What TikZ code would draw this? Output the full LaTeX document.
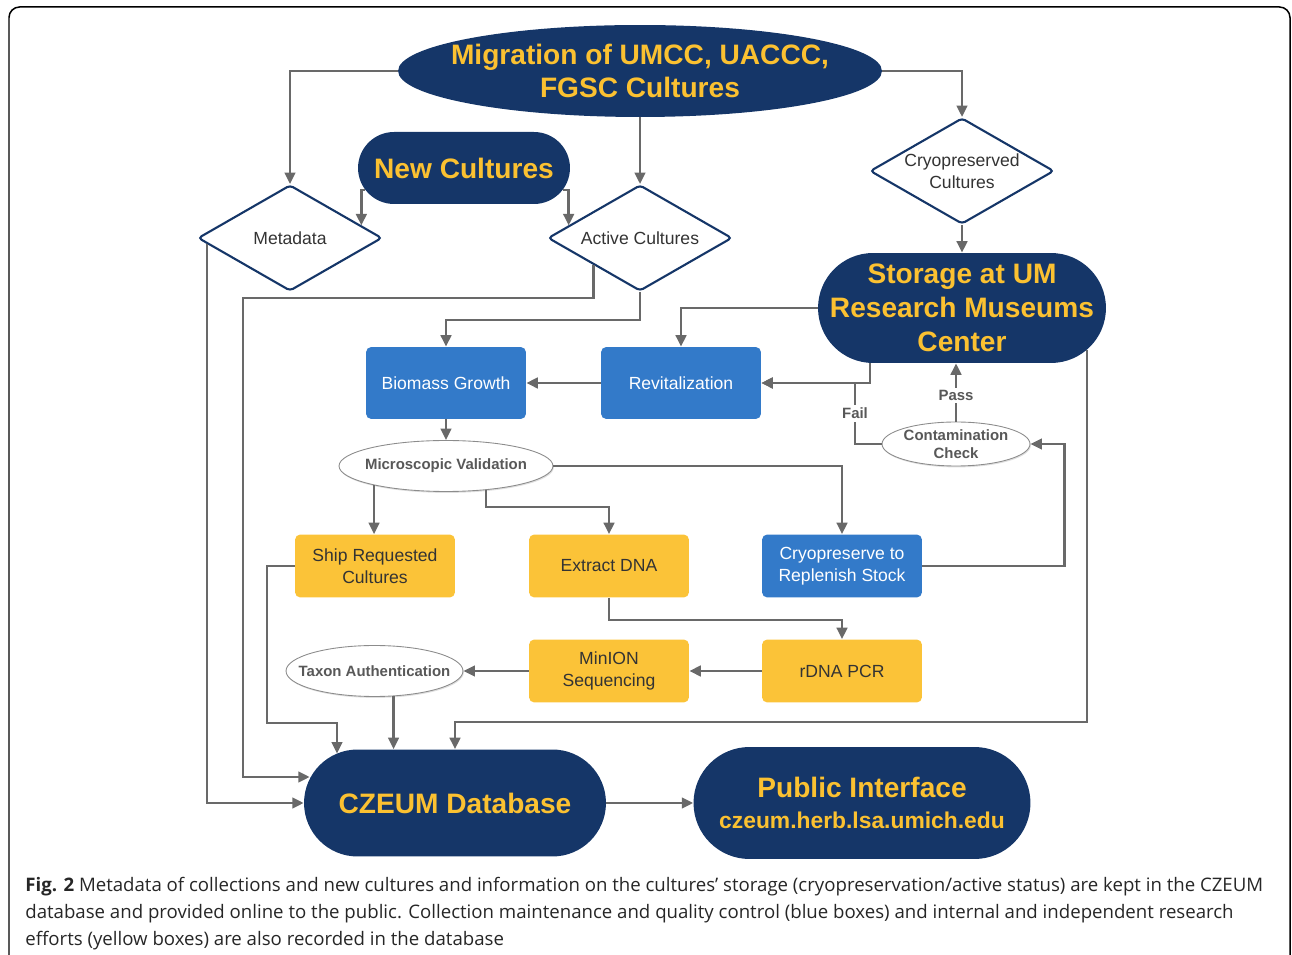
\documentclass[tikz,border=0pt]{standalone}
\usepackage{fontspec}
\setmainfont{Liberation Sans}
\newfontfamily\capfont{Open Sans}
\usepackage{xcolor}
\usepackage{tikz}
\usetikzlibrary{shapes.geometric,arrows.meta,shadows}

\definecolor{navy}{RGB}{21,54,104}
\definecolor{gold}{RGB}{251,193,49}
\definecolor{boxyel}{RGB}{251,195,56}
\definecolor{boxblue}{RGB}{51,122,201}
\definecolor{linegray}{RGB}{105,105,105}
\definecolor{txtgray}{RGB}{51,51,51}
\definecolor{ovalgray}{RGB}{88,88,88}

\begin{document}
\begin{tikzpicture}[x=0.02cm,y=-0.02cm,>={Triangle[length=6.5pt,width=6pt]},
  conn/.style={->,draw=linegray,line width=1.4pt},
  big/.style={fill=navy,text=gold,font=\fontsize{16}{19.3}\selectfont\bfseries,align=center,inner sep=0pt},
  decide/.style={diamond,aspect=1.74,draw=navy,line width=1.2pt,fill=white,rounded corners=2pt,minimum width=3.68cm,minimum height=2.12cm,inner sep=0pt,text=txtgray,font=\fontsize{10}{12.5}\selectfont,align=center},
  task/.style={rectangle,rounded corners=3pt,minimum width=3.2cm,minimum height=1.26cm,inner sep=0pt,align=center,font=\fontsize{10}{12.5}\selectfont},
  bluebox/.style={task,fill=boxblue,text=white},
  yelbox/.style={task,fill=boxyel,text=txtgray},
  oval/.style={ellipse,draw=black!45,line width=0.5pt,fill=white,inner xsep=-0.3cm,inner ysep=0pt,text=ovalgray,font=\fontsize{8.5}{10.2}\selectfont\bfseries,align=center,drop shadow={shadow xshift=0.5pt,shadow yshift=-0.8pt,opacity=0.25}},
  lbl/.style={fill=white,text=ovalgray,font=\fontsize{8.5}{10}\selectfont\bfseries,inner sep=1.5pt}]
\useasboundingbox (0,0) rectangle (1292,955);
\draw[line width=0.85pt,rounded corners=6pt] (9,975) -- (9,7) -- (1290,7) -- (1290,975);

% sources
\node[big,ellipse,inner xsep=-0.5cm,minimum width=9.68cm,minimum height=1.84cm] (mig) at (640,71) {Migration of UMCC, UACCC,\\FGSC Cultures};
\node[big,rectangle,rounded corners=0.72cm,minimum width=4.24cm,minimum height=1.44cm] (newc) at (464,168) {New Cultures};
\node[decide] (meta) at (290,238) {Metadata};
\node[decide] (act) at (640,238) {Active Cultures};
\node[decide] (cryo) at (962,171) {Cryopreserved\\Cultures};
\node[big,rectangle,rounded corners=1.1cm,minimum width=5.76cm,minimum height=2.2cm] (stor) at (962,308) {Storage at UM\\Research Museums\\Center};

% maintenance
\node[bluebox,minimum height=1.44cm] (bio) at (446,383) {Biomass Growth};
\node[bluebox,minimum height=1.44cm] (rev) at (681,383) {Revitalization};
\node[oval,minimum width=4.28cm,minimum height=1.02cm] (micro) at (446,466) {Microscopic Validation};
\node[oval,minimum width=2.96cm,minimum height=0.88cm] (cont) at (956,444) {Contamination\\Check};
\node[yelbox] (ship) at (375,566) {Ship Requested\\Cultures};
\node[yelbox] (extr) at (609,566) {Extract DNA};
\node[bluebox] (crs) at (842,566) {Cryopreserve to\\Replenish Stock};
\node[oval,minimum width=3.54cm,minimum height=1.02cm] (taxon) at (374.5,671) {Taxon Authentication};
\node[yelbox] (minion) at (609,671) {MinION\\Sequencing};
\node[yelbox] (rdna) at (842,671) {rDNA PCR};

% outputs
\node[big,rectangle,rounded corners=1.07cm,minimum width=6.04cm,minimum height=2.14cm] (db) at (455,803) {CZEUM Database};
\node[big,rectangle,rounded corners=1.12cm,minimum width=6.74cm,minimum height=2.24cm] (pub) at (862,803) {Public Interface\\[-2pt]{\fontsize{13}{15}\selectfont czeum.herb.lsa.umich.edu}};

% connectors
\draw[conn] (mig.west) -| (meta.north);
\draw[conn] (mig.east) -| (cryo.north);
\draw[conn] (mig.south) -- (act.north);
\draw[conn] ([shift={(7,22)}]newc.west) -| (meta.10);
\draw[conn] ([shift={(-7,22)}]newc.east) -| (act.170);
\draw[conn] (cryo.south) -- (stor.north);
\draw[conn] (meta.184) |- (db.west);
\draw[conn] (act.south west) |- (243,298) |- ([shift={(6,-26)}]db.west);
\draw[conn] (act.south) -- ++(0,28) -| (bio.north);
\draw[conn] (stor.west) -| (rev.north);
\draw[conn] ([shift={(-92,0)}]stor.south) |- (rev.east);
\draw[conn] (rev.west) -- (bio.east);
\draw[conn] (bio.south) -- (micro.north);
\draw[conn] (cont.west) -- (855,444) -- node[lbl]{Fail} (855,383) -- (rev.east);
\draw[conn] (cont.north) -- node[lbl,pos=0.45]{Pass} (cont.north |- stor.south);
\draw[conn] (crs.east) -- ++(142,0) |- (cont.east);
\draw[conn] (micro.east) -| (crs.north);
\draw[conn] (micro.195) -- (micro.195 |- ship.north);
\draw[conn] (micro.-31) -- ++(0,17) -| (extr.north);
\draw[conn] (extr.south) -- ++(0,22) -| (rdna.north);
\draw[conn] (rdna.west) -- (minion.east);
\draw[conn] (minion.west) -- (taxon.east);
\draw[conn] (taxon.-53) -- (taxon.-53 |- db.north);
\draw[conn] (ship.west) -| (267,723) -| ([shift={(-118,-49.5)}]db.center);
\draw[conn] ([shift={(125,42)}]stor.center) -- ++(0,372) -| (db.north);
\draw[conn] (db.east) -- (pub.west);

% caption
\begin{scope}[every node/.style={anchor=base west,inner sep=0pt,text=black!85,font=\capfont\fontsize{10.6}{12}\selectfont}]
\node (cap1) at (25,891) {\textbf{Fig. 2} Metadata of collections and new cultures and information on the cultures’ storage (cryopreservation/active status) are kept in the CZEUM};
\node (cap2) at (25,918) {database and provided online to the public. Collection maintenance and quality control (blue boxes) and internal and independent research};
\node (cap3) at (25,945) {efforts (yellow boxes) are also recorded in the database};
\end{scope}
\end{tikzpicture}
\end{document}
